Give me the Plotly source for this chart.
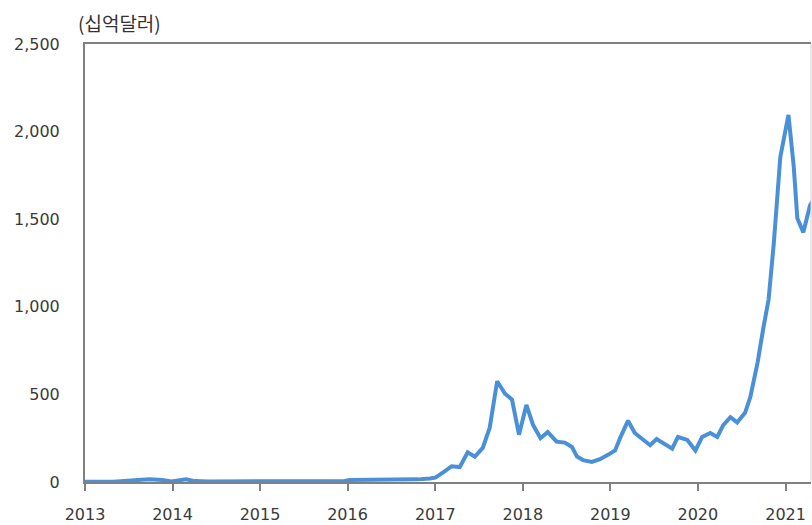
import plotly.graph_objects as go

dates = [
    "2013-01-01", "2013-05-01", "2013-08-10", "2013-09-27", "2013-11-20", "2013-12-28",
    "2014-02-26", "2014-04-05", "2014-06-01", "2015-01-01", "2015-12-20", "2016-01-10",
    "2016-08-01", "2016-10-20", "2016-12-10",
    "2017-01-01", "2017-02-03", "2017-03-10", "2017-04-13", "2017-05-16", "2017-06-15",
    "2017-07-18", "2017-08-16", "2017-09-16", "2017-10-18", "2017-11-17", "2017-12-16",
    "2018-01-16", "2018-02-13", "2018-03-16", "2018-04-15", "2018-05-22", "2018-06-25",
    "2018-07-25", "2018-08-15", "2018-09-09", "2018-10-16", "2018-11-19", "2018-12-22",
    "2019-01-21", "2019-02-12", "2019-03-16", "2019-04-13", "2019-05-13", "2019-06-16",
    "2019-07-13", "2019-08-09", "2019-09-16", "2019-10-10", "2019-11-18", "2019-12-22",
    "2020-01-19", "2020-02-22", "2020-03-22", "2020-04-16", "2020-05-16", "2020-06-13",
    "2020-07-16", "2020-08-07", "2020-09-06", "2020-10-01", "2020-10-22", "2020-11-13",
    "2020-12-10", "2021-01-13", "2021-02-04", "2021-02-19", "2021-03-16", "2021-04-13",
    "2021-05-16",
]
values = [
    1, 2, 12, 15, 12, 3,
    15, 5, 3, 3, 6, 12,
    12, 15, 20,
    25, 55, 90, 85, 170, 145,
    195, 310, 575, 505, 470, 270,
    440, 325, 250, 285, 230, 225,
    200, 145, 125, 115, 130, 155,
    180, 255, 350, 280, 250, 210,
    245, 222, 190, 257, 240, 180,
    257, 280, 257, 325, 370, 340,
    395, 485, 680, 885, 1040, 1365,
    1855, 2095, 1800, 1505, 1425, 1580,
    1650,
]

year_ticks = ["2013-01-01", "2014-01-01", "2015-01-01", "2016-01-01", "2017-01-01",
              "2018-01-01", "2019-01-01", "2020-01-01", "2021-01-01"]
year_labels = ["2013", "2014", "2015", "2016", "2017", "2018", "2019", "2020", "2021"]
y_ticks = [0, 500, 1000, 1500, 2000, 2500]
y_labels = ["0", "500", "1,000", "1,500", "2,000", "2,500"]
unit_label = "(십억달러)"

fig = go.Figure()
fig.add_trace(go.Scatter(
    x=dates, y=values, mode="lines",
    line=dict(color="#4a90d8", width=4),
    hoverinfo="skip",
))

tick_font = dict(family="DejaVu Sans", size=16, color="#3a3a3a")

fig.update_layout(
    width=812, height=525,
    margin=dict(l=85, r=1, t=44, b=43),
    paper_bgcolor="white", plot_bgcolor="white",
    showlegend=False,
    xaxis=dict(
        type="date",
        range=["2013-01-01", "2021-04-17"],
        tickvals=year_ticks, ticktext=year_labels,
        ticks="outside", ticklen=7, tickwidth=2, tickcolor="#808080",
        showline=True, linecolor="#808080", linewidth=2, mirror=True,
        showgrid=False, zeroline=False,
        tickfont=tick_font, ticklabelstandoff=10,
    ),
    yaxis=dict(
        range=[0, 2500],
        tickvals=y_ticks, ticktext=y_labels,
        ticks="",
        showline=True, linecolor="#808080", linewidth=2,
        showgrid=False, zeroline=False,
        tickfont=tick_font, ticklabelstandoff=20,
    ),
    shapes=[dict(type="line", xref="paper", yref="paper", x0=1, x1=1, y0=0, y1=1,
                 line=dict(color="#d0d0d0", width=1))],
    annotations=[dict(
        text=unit_label, xref="paper", yref="paper", x=-0.012, y=1.0,
        xanchor="left", yanchor="bottom", yshift=6, showarrow=False,
        font=dict(family="Noto Sans CJK KR", size=19, color="#333333"),
    )],
)

fig.write_html(
    "out.html",
    config={"displayModeBar": False, "staticPlot": True},
    post_script="document.body.style.margin='0';document.body.style.overflow='hidden';",
)
